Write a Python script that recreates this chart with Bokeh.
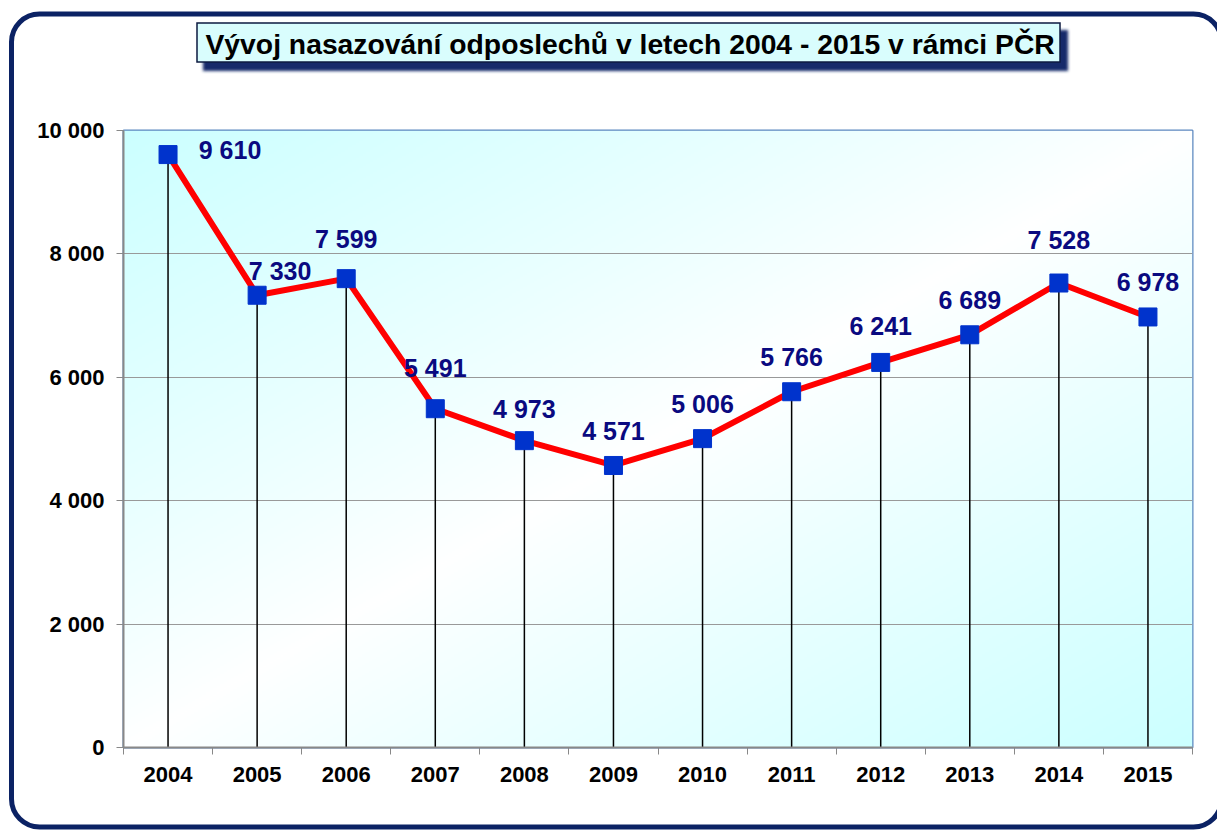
import urllib.parse
import numpy as np
from bokeh.plotting import figure
from bokeh.models import (ColumnDataSource, Range1d, FixedTicker, LabelSet, InlineStyleSheet, LinearAxis)
from bokeh.core.properties import value
from bokeh.embed import file_html
from bokeh.resources import INLINE

# ---- data ----
years = ["2004", "2005", "2006", "2007", "2008", "2009", "2010", "2011", "2012", "2013", "2014", "2015"]
counts = [9610, 7330, 7599, 5491, 4973, 4571, 5006, 5766, 6241, 6689, 7528, 6978]
count_labels = ["9 610", "7 330", "7 599", "5 491", "4 973", "4 571", "5 006", "5 766", "6 241", "6 689", "7 528", "6 978"]
y_ticks = [0, 2000, 4000, 6000, 8000, 10000]
y_tick_labels = ["0", "2 000", "4 000", "6 000", "8 000", "10 000"]
title_text = "Vývoj nasazování odposlechů v letech 2004 - 2015  v rámci PČR"

# label offsets (style)
lab_dx = [62, 23, 0, 0, 0, 0, 0, 0, 0, 0, 0, 0]
lab_dy = [5, 24, 40, 41, 32, 34, 35, 35, 36, 35, 43, 35]

FONT = "Liberation Sans"
xs = list(range(len(years)))

p = figure(width=1217, height=830, output_backend="svg", toolbar_location=None,
           x_range=Range1d(-0.5, len(years) - 0.5), y_range=Range1d(0, 10000),
           min_border_left=123, min_border_right=25, min_border_top=130, min_border_bottom=83,
           background_fill_color=None, border_fill_color=None,
           outline_line_color="#5b87c0", outline_line_width=2)

# title text (box and shadow drawn in page background)
p.title.text = title_text
p.title.align = "left"
p.title.offset = 82
p.title.standoff = 10
p.title.text_font = FONT
p.title.text_font_style = "bold"
p.title.text_font_size = "28.3px"
p.title.text_color = "black"

# invisible spacer axis above the frame, lifts the title
spacer = LinearAxis(ticker=FixedTicker(ticks=[]), axis_line_color=None, major_tick_line_color=None,
                    minor_tick_line_color=None, major_label_text_color=None,
                    major_tick_out=66, major_tick_in=0, minor_tick_out=0, major_label_standoff=0)
p.add_layout(spacer, "above")

# gradient background of the plot area
n = 300
px = np.linspace(0, 1, n)[None, :]
py = np.linspace(1, 0, n)[:, None]  # row 0 = bottom
d = (px + py) / 2.0
t = np.abs(2 * d - 1) ** 0.9
r = (255 - 51 * t).astype(np.uint32)
g = np.full_like(r, 255)
b = np.full_like(r, 255)
img = (255 << 24) | (b << 16) | (g << 8) | r
p.image_rgba(image=[img.astype(np.uint32)], x=-0.5, y=0, dw=len(years), dh=10000, level="image")

src = ColumnDataSource(dict(x=xs, y=counts, lab=count_labels, zero=[0] * len(xs), dx=lab_dx, dy=lab_dy))

p.segment(x0="x", y0="zero", x1="x", y1="y", source=src, line_color="black", line_width=1.5)
p.line(x="x", y="y", source=src, line_color="#ff0000", line_width=6)
p.scatter(x="x", y="y", source=src, marker="square", size=18, fill_color="#0033cc", line_color="#0033cc")

labels = LabelSet(x="x", y="y", text="lab", source=src, x_offset="dx", y_offset="dy",
                  text_align="center", text_baseline="middle", text_font=value(FONT),
                  text_font_style="bold", text_font_size="25px", text_color="#0a0a80")
p.add_layout(labels)

# axes
p.xaxis[0].ticker = FixedTicker(ticks=xs, minor_ticks=[i - 0.5 for i in range(len(years) + 1)])
xa = p.below[0]
xa.ticker = FixedTicker(ticks=xs, minor_ticks=[i - 0.5 for i in range(len(years) + 1)])
xa.major_label_overrides = {i: y for i, y in enumerate(years)}
xa.major_tick_line_color = None
xa.minor_tick_line_color = "#888888"
xa.minor_tick_out = 7
xa.minor_tick_in = 0
ya = p.left[0]
ya.ticker = FixedTicker(ticks=y_ticks, minor_ticks=[])
ya.major_label_overrides = {v: s for v, s in zip(y_ticks, y_tick_labels)}
ya.major_tick_line_color = "#888888"
ya.major_tick_out = 7
ya.major_tick_in = 0
for ax in (xa, ya):
    ax.axis_line_color = "#888888"
    ax.axis_line_width = 2
    ax.major_label_text_font = FONT
    ax.major_label_text_font_style = "bold"
    ax.major_label_text_font_size = "22px"
    ax.major_label_text_color = "black"
    ax.major_label_standoff = 12

p.xgrid.grid_line_color = None
p.ygrid.ticker = FixedTicker(ticks=y_ticks[1:-1])
p.ygrid.grid_line_color = "#999999"
p.ygrid.grid_line_width = 1.2

# page decoration: rounded outer border, title box and its shadow
svg = (
    "<svg xmlns='http://www.w3.org/2000/svg' width='1217' height='830'>"
    "<defs><filter id='b' x='-5%' y='-50%' width='110%' height='200%'>"
    "<feGaussianBlur stdDeviation='1.5'/></filter></defs>"
    "<rect x='11.5' y='14' width='1210' height='813' rx='28' fill='none' stroke='#0b2264' stroke-width='5'/>"
    "<rect x='203' y='30' width='865' height='41' fill='#17296a' filter='url(#b)'/>"
    "<rect x='197' y='23' width='863' height='39' fill='#d9fdfd' stroke='#0d1a40' stroke-width='1.5'/>"
    "</svg>"
)
uri = "data:image/svg+xml," + urllib.parse.quote(svg)
p.stylesheets = [InlineStyleSheet(css=':host { background: white url("%s") no-repeat 0 0; }' % uri)]

open("out.html", "w").write(file_html(p, INLINE))
